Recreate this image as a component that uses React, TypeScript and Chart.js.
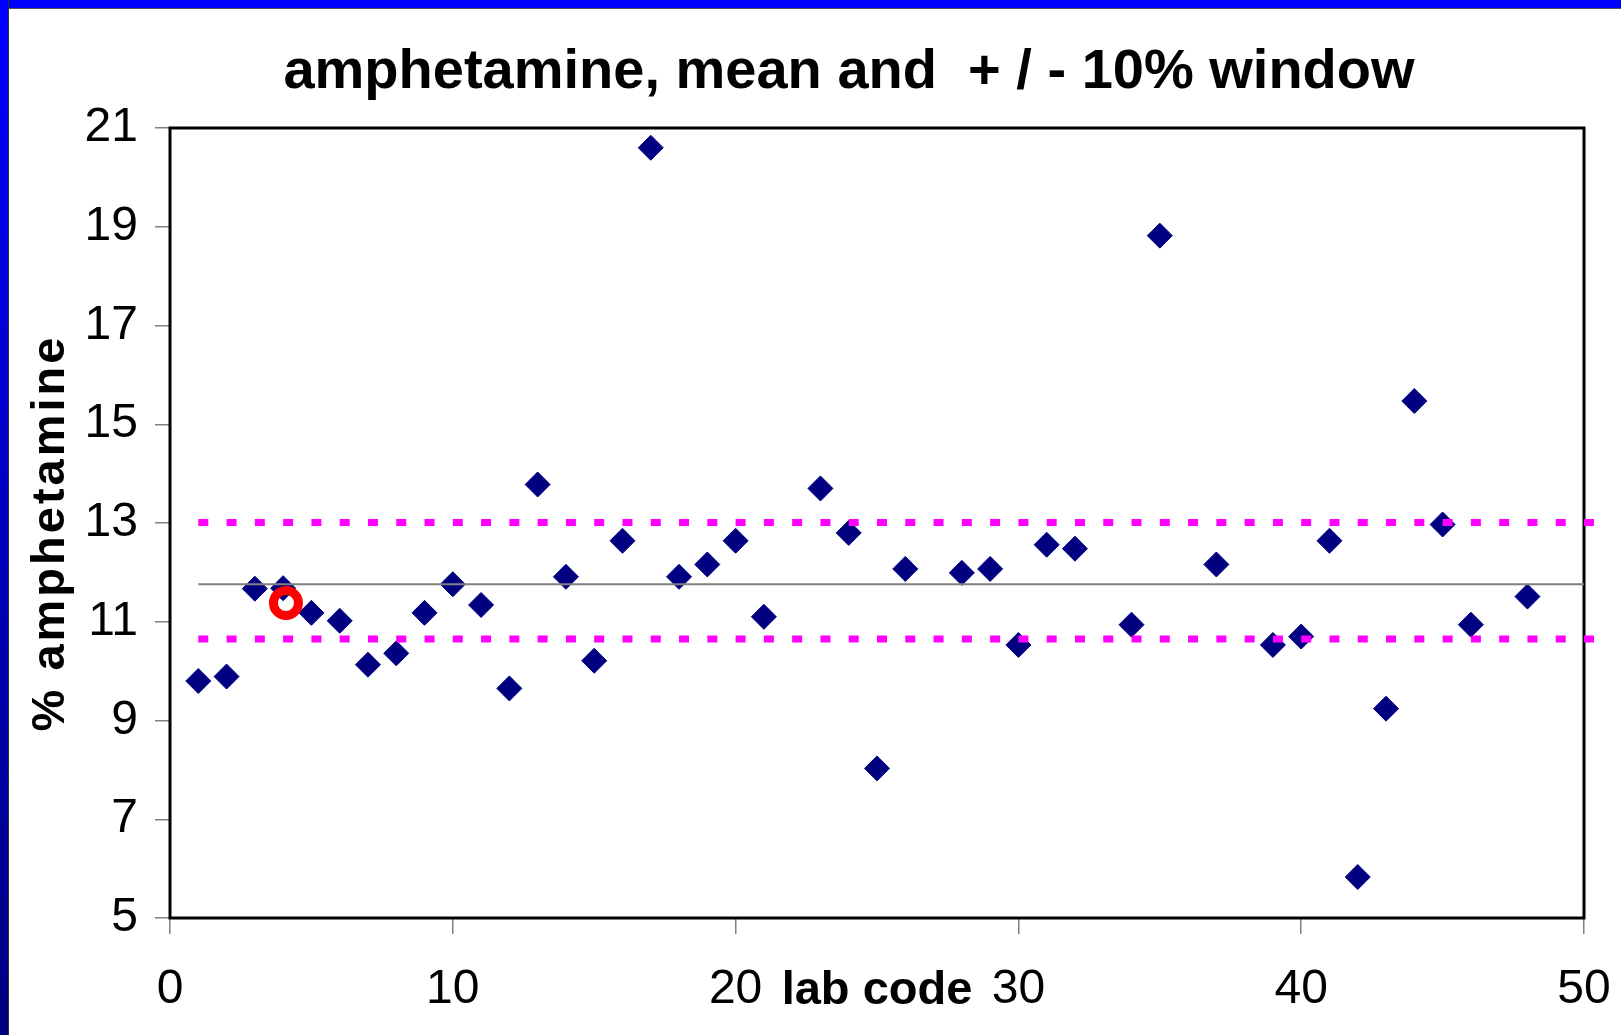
import React, { useEffect, useRef } from "react";
import { Chart, registerables } from "chart.js";

Chart.register(...registerables);

const TITLE = "amphetamine, mean and  + / - 10% window";
const X_TITLE = "lab code";
const Y_TITLE = "% amphetamine";

const labCodes = [
  1, 2, 3, 4, 5, 6, 7, 8, 9, 10, 11, 12, 13, 14, 15, 16, 17, 18, 19, 20, 21,
  23, 24, 25, 26, 28, 29, 30, 31, 32, 34, 35, 37, 39, 40, 41, 42, 43, 44, 45,
  46, 48,
];
const amphetamine = [
  9.8, 9.89, 11.67, 11.68, 11.18, 11.02, 10.13, 10.36, 11.18, 11.76, 11.34,
  9.65, 13.78, 11.91, 10.21, 12.64, 20.6, 11.91, 12.16, 12.64, 11.1, 13.7,
  12.8, 8.03, 12.07, 11.99, 12.07, 10.53, 12.56, 12.48, 10.94, 18.82, 12.16,
  10.53, 10.7, 12.64, 5.83, 9.24, 15.47, 12.97, 10.94, 11.51,
];

const meanX = [1, 50];
const windowX = [1, 50.4];
const meanValue = 11.76;
const upperValue = 13.01;
const lowerValue = 10.65;

const highlightLab = [4.1];
const highlightValue = [11.38];

const xTicks = [0, 10, 20, 30, 40, 50];
const yTicks = [5, 7, 9, 11, 13, 15, 17, 19, 21];

const FONT = '"Liberation Sans", Arial, sans-serif';

const framePlugin = {
  id: "frame",
  beforeDatasetsDraw(chart: any) {
    const { ctx, chartArea } = chart;
    ctx.save();
    ctx.strokeStyle = "#000";
    ctx.lineWidth = 3;
    ctx.strokeRect(
      chartArea.left,
      chartArea.top,
      chartArea.right - chartArea.left,
      chartArea.bottom - chartArea.top
    );
    ctx.restore();
  },
};

const titlesPlugin = {
  id: "titles",
  afterDraw(chart: any) {
    const { ctx, chartArea, scales } = chart;
    ctx.save();
    ctx.fillStyle = "#000";
    // main title
    ctx.font = `bold 56px ${FONT}`;
    ctx.textAlign = "center";
    ctx.textBaseline = "alphabetic";
    ctx.fillText(TITLE, 849, 88);
    // x title, inline with tick labels
    ctx.font = `bold 47px ${FONT}`;
    ctx.textBaseline = "middle";
    ctx.fillText(X_TITLE, scales.x.getPixelForValue(25), 991);
    // y title, rotated
    ctx.translate(51, (chartArea.top + chartArea.bottom) / 2 + 10);
    ctx.rotate(-Math.PI / 2);
    (ctx as any).letterSpacing = "3px";
    ctx.font = `bold 47px ${FONT}`;
    ctx.textAlign = "center";
    ctx.textBaseline = "middle";
    ctx.fillText(Y_TITLE, 0, 0);
    ctx.restore();
  },
};

export default function App() {
  const ref = useRef<HTMLCanvasElement>(null);

  useEffect(() => {
    const points = labCodes.map((x, i) => ({ x, y: amphetamine[i] }));
    const meanLine = meanX.map((x) => ({ x, y: meanValue }));
    const upperLine = windowX.map((x) => ({ x, y: upperValue }));
    const lowerLine = windowX.map((x) => ({ x, y: lowerValue }));
    const highlight = highlightLab.map((x, i) => ({ x, y: highlightValue[i] }));

    const chart = new Chart(ref.current as HTMLCanvasElement, {
      type: "scatter",
      data: {
        datasets: [
          {
            label: "highlight",
            data: highlight,
            pointStyle: "circle",
            pointRadius: 12.5,
            pointBorderWidth: 9,
            pointBorderColor: "#ff0000",
            pointBackgroundColor: "rgba(0,0,0,0)",
            order: 0,
          } as any,
          {
            label: "+10%",
            type: "line",
            data: upperLine,
            borderColor: "#ff00ff",
            borderWidth: 7,
            borderDash: [10, 18.28],
            pointRadius: 0,
            clip: false,
            order: 1,
          } as any,
          {
            label: "-10%",
            type: "line",
            data: lowerLine,
            borderColor: "#ff00ff",
            borderWidth: 7,
            borderDash: [10, 18.28],
            pointRadius: 0,
            clip: false,
            order: 1,
          } as any,
          {
            label: "mean",
            type: "line",
            data: meanLine,
            borderColor: "#808080",
            borderWidth: 2,
            pointRadius: 0,
            order: 2,
          } as any,
          {
            label: "amphetamine",
            data: points,
            pointStyle: "rectRot",
            pointRadius: 12.5,
            pointBorderWidth: 1,
            pointBackgroundColor: "#000080",
            pointBorderColor: "#000080",
            order: 3,
          } as any,
        ],
      },
      options: {
        responsive: false,
        devicePixelRatio: 1,
        animation: false,
        layout: { padding: { top: 128, right: 37, left: 0, bottom: 0 } },
        plugins: {
          legend: { display: false },
          tooltip: { enabled: false },
          title: { display: false },
        },
        scales: {
          x: {
            type: "linear",
            min: 0,
            max: 50,
            afterFit: (s: any) => {
              s.height = 117;
              s.paddingLeft = 0;
              s.paddingRight = 0;
            },
            afterBuildTicks: (s: any) => {
              s.ticks = xTicks.map((v) => ({ value: v }));
            },
            ticks: {
              color: "#000",
              font: { family: FONT, size: 48 },
              padding: 27,
              maxRotation: 0,
              autoSkip: false,
            },
            grid: {
              drawOnChartArea: false,
              drawTicks: true,
              tickLength: 16,
              color: "#808080",
              lineWidth: 1.5,
            },
            border: { display: false },
          },
          y: {
            type: "linear",
            min: 5,
            max: 21,
            afterFit: (s: any) => {
              s.width = 170;
              s.paddingTop = 0;
              s.paddingBottom = 0;
            },
            afterBuildTicks: (s: any) => {
              s.ticks = yTicks.map((v) => ({ value: v }));
            },
            ticks: {
              color: "#000",
              font: { family: FONT, size: 48 },
              padding: 17,
              autoSkip: false,
            },
            grid: {
              drawOnChartArea: false,
              drawTicks: true,
              tickLength: 15,
              color: "#808080",
              lineWidth: 1.5,
            },
            border: { display: false },
          },
        },
      } as any,
      plugins: [framePlugin, titlesPlugin],
    });
    return () => chart.destroy();
  }, []);

  return (
    <div
      style={{
        position: "fixed",
        left: 0,
        top: 0,
        width: 1621,
        height: 1035,
        background: "#ffffff",
        overflow: "hidden",
      }}
    >
      <div
        style={{
          position: "absolute",
          left: 0,
          top: 0,
          width: 1621,
          height: 8,
          background: "#0000ff",
          borderBottom: "1px solid #505050",
        }}
      />
      <div
        style={{
          position: "absolute",
          left: 0,
          top: 0,
          width: 8,
          height: 1035,
          background: "linear-gradient(#0000ff, #000080)",
          borderRight: "1px solid #303030",
        }}
      />
      <canvas
        ref={ref}
        width={1621}
        height={1035}
        style={{ position: "absolute", left: 0, top: 0, width: 1621, height: 1035 }}
      />
    </div>
  );
}
